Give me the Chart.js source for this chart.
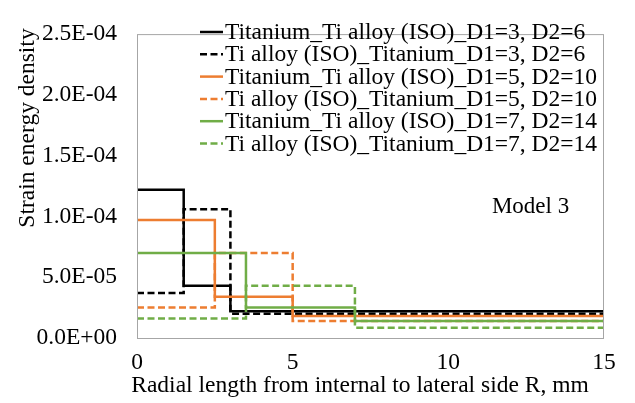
<!DOCTYPE html>
<html>
<head>
<meta charset="utf-8">
<script src="https://cdn.jsdelivr.net/npm/chart.js@4.4.1/dist/chart.umd.min.js"></script>
<style>
    html, body { margin: 0; padding: 0; background: #fff; }
    #wrap { width: 635px; height: 403px; position: relative; }
</style>
</head>
<body>
<div id="wrap"><canvas id="sedChart"></canvas></div>
<script>
// Step edges along R (mm) for each D1/D2 pair
const edgesD3 = [0, 1.5, 3, 15];
const edgesD5 = [0, 2.5, 5, 15];
const edgesD7 = [0, 3.5, 7, 15];

// Strain energy density per segment
const tiTiAlloyD3 = [1.22e-4, 4.3e-5, 2.2e-5];
const tiAlloyTiD3 = [3.7e-5, 1.06e-4, 2.0e-5];
const tiTiAlloyD5 = [9.7e-5, 3.4e-5, 1.8e-5];
const tiAlloyTiD5 = [2.5e-5, 7.0e-5, 1.4e-5];
const tiTiAlloyD7 = [7.0e-5, 2.5e-5, 1.4e-5];
const tiAlloyTiD7 = [1.6e-5, 4.3e-5, 8.5e-6];

const seriesLabels = [
    'Titanium_Ti alloy (ISO)_D1=3, D2=6',
    'Ti alloy (ISO)_Titanium_D1=3, D2=6',
    'Titanium_Ti alloy (ISO)_D1=5, D2=10',
    'Ti alloy (ISO)_Titanium_D1=5, D2=10',
    'Titanium_Ti alloy (ISO)_D1=7, D2=14',
    'Ti alloy (ISO)_Titanium_D1=7, D2=14'
];

const xTicks = [0, 5, 10, 15];
const yTicks = [0, 5e-5, 1e-4, 1.5e-4, 2e-4, 2.5e-4];

const BLACK = '#000000';
const ORANGE = '#ED7D31';
const GREEN = '#70AD47';
const FONT = '"Liberation Serif", "Times New Roman", serif';
const FS = 23.5;
const DASH = [7, 3.5];

// segment values -> points; 'before' stepping holds each value up to the next edge
function steps(edges, vals) {
    const pts = vals.map((v, i) => ({ x: edges[i], y: v }));
    pts.push({ x: edges[edges.length - 1], y: vals[vals.length - 1] });
    return pts;
}

function makeSet(i, edges, vals, color, dashed) {
    return {
        label: seriesLabels[i],
        data: steps(edges, vals),
        borderColor: color,
        backgroundColor: color,
        borderWidth: 2.5,
        borderDash: dashed ? DASH : [],
        stepped: 'before',
        pointRadius: 0,
        fill: false,
        order: 10 - i
    };
}

// "2.5E-04" style labels
function sci(v) {
    if (v === 0) return '0.0E+00';
    const [m, e] = v.toExponential(1).split('e');
    const n = parseInt(e, 10);
    const sign = n < 0 ? '-' : '+';
    return m + 'E' + sign + String(Math.abs(n)).padStart(2, '0');
}

// plot frame, legend, axis titles and model tag
const decorations = {
    id: 'decorations',
    afterDatasetsDraw(chart) {
        const { ctx, chartArea: a } = chart;
        ctx.save();
        ctx.strokeStyle = '#a6a6a6';
        ctx.lineWidth = 1;
        ctx.strokeRect(a.left + 0.5, a.top + 0.5, a.right - a.left - 1, a.bottom - a.top);
        ctx.restore();
    },
    afterDraw(chart) {
        const { ctx, scales } = chart;
        ctx.save();

        // legend
        ctx.font = FS + 'px ' + FONT;
        ctx.textBaseline = 'middle';
        ctx.textAlign = 'left';
        const lx = 200, ly = 32, rowH = 22.3;
        chart.data.datasets.forEach((ds, i) => {
            const y = ly + i * rowH;
            ctx.strokeStyle = ds.borderColor;
            ctx.lineWidth = 2.5;
            ctx.setLineDash(ds.borderDash);
            ctx.beginPath();
            ctx.moveTo(lx, y);
            ctx.lineTo(lx + 23, y);
            ctx.stroke();
            ctx.setLineDash([]);
            ctx.fillStyle = '#000';
            ctx.fillText(ds.label, lx + 25, y + 1);
        });

        // model tag
        ctx.font = '23px ' + FONT;
        ctx.fillText('Model 3', scales.x.getPixelForValue(11.4), scales.y.getPixelForValue(1.08e-4));

        // x axis title
        ctx.font = FS + 'px ' + FONT;
        ctx.textAlign = 'center';
        ctx.fillText('Radial length from internal to lateral side R, mm', 360, 386);

        // y axis title
        ctx.translate(28, 128);
        ctx.rotate(-Math.PI / 2);
        ctx.fillText('Strain energy density', 0, 0);
        ctx.restore();
    }
};

const ctxSed = document.getElementById('sedChart').getContext('2d');
new Chart(ctxSed, {
    type: 'line',
    data: {
        datasets: [
            makeSet(0, edgesD3, tiTiAlloyD3, BLACK, false),
            makeSet(1, edgesD3, tiAlloyTiD3, BLACK, true),
            makeSet(2, edgesD5, tiTiAlloyD5, ORANGE, false),
            makeSet(3, edgesD5, tiAlloyTiD5, ORANGE, true),
            makeSet(4, edgesD7, tiTiAlloyD7, GREEN, false),
            makeSet(5, edgesD7, tiAlloyTiD7, GREEN, true)
        ]
    },
    options: {
        responsive: true,
        maintainAspectRatio: false,
        animation: false,
        layout: { padding: { left: 0, right: 31, top: 16, bottom: 0 } },
        plugins: {
            legend: { display: false },
            tooltip: { enabled: false }
        },
        scales: {
            x: {
                type: 'linear',
                min: 0,
                max: 15,
                afterFit: s => { s.height = 65; },
                afterBuildTicks: s => { s.ticks = xTicks.map(v => ({ value: v })); },
                grid: { display: false, drawTicks: false },
                border: { display: false },
                ticks: {
                    color: '#000',
                    padding: 11,
                    font: { family: FONT, size: FS }
                }
            },
            y: {
                min: 0,
                max: 2.5e-4,
                afterFit: s => { s.width = 137; },
                afterBuildTicks: s => { s.ticks = yTicks.map(v => ({ value: v })); },
                grid: { display: false, drawTicks: false },
                border: { display: false },
                ticks: {
                    color: '#000',
                    padding: 20,
                    font: { family: FONT, size: FS },
                    callback: v => sci(v)
                }
            }
        }
    },
    plugins: [decorations]
});
</script>
</body>
</html>
